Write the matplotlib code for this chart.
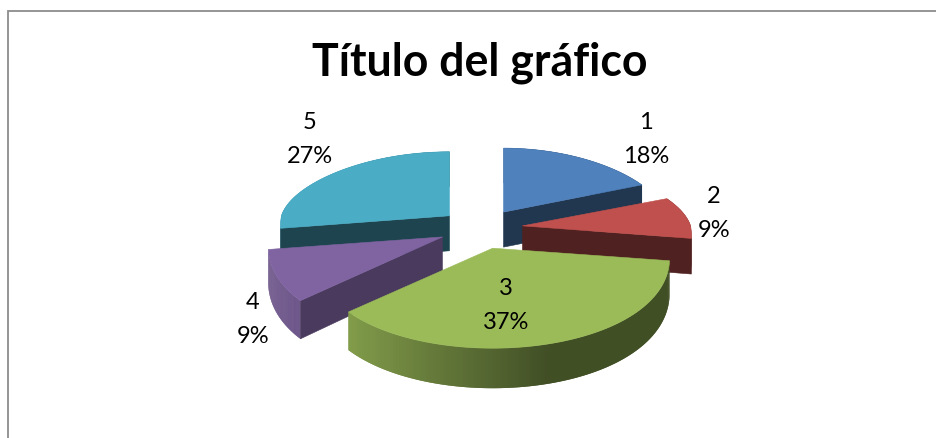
import numpy as np
import matplotlib
matplotlib.use("Agg")
import matplotlib.pyplot as plt

# datos del grafico
categories = ["1", "2", "3", "4", "5"]
values = [18, 9, 37, 9, 27]
colors = ["#4F81BD", "#C0504D", "#9BBB59", "#8064A2", "#4BACC6"]
wall_shade = [0.42, 0.41, 0.42, 0.58, 0.40]
radius_scale = [0.915, 0.955, 1.0, 0.985, 0.955]

# centre of the pie and shape of the fake 3d projection, in pixels
CX, CY = 481, 230
RADIUS = 176
RY_BACK, RY_FRONT = 64, 100
EXPLODE_X, EXPLODE_Y = 42, 20
DEPTH = 35

label_pos = [(646, 139.5), (714, 213.5), (506, 305.5), (253, 319.5), (310, 139.5)]

plt.rcParams["font.family"] = ["Lato", "DejaVu Sans"]


def project(theta, scale):
    # angle is clockwise from the top, back half is squashed like a perspective
    s, c = np.sin(theta), np.cos(theta)
    k = np.where(c > 0, 0.12, 0.1)
    x = RADIUS * scale * s * (1 - k * c)
    y = np.where(c > 0, -RY_BACK * c, -RY_FRONT * c)
    return x, y


def depth_at(y):
    return DEPTH + 5 * np.clip(y / RY_FRONT, 0, 1)


def shade(color, f):
    return tuple(np.array(matplotlib.colors.to_rgb(color)) * f)


def rim_shade(theta):
    t = np.clip((np.sin(theta) + 0.8) / 1.1, 0, 1)
    return 0.85 + (0.42 - 0.85) * t


fig = plt.figure(figsize=(9.36, 4.39), dpi=100)
ax = fig.add_axes([0, 0, 1, 1])
ax.set_xlim(0, 936)
ax.set_ylim(439, 0)
ax.axis("off")

# chart frame, open at the right and the bottom
ax.plot([8, 8, 936], [439, 11.5, 11.5], color="#8c8c8c", lw=1.3, solid_joinstyle="miter")

fractions = np.array(values) / sum(values)
ends = np.cumsum(fractions) * 2 * np.pi
starts = ends - fractions * 2 * np.pi
mids = (starts + ends) / 2

# back slices first so the front ones cover them
for i in np.argsort(-np.cos(mids)):
    ax0 = CX + EXPLODE_X * np.sin(mids[i])
    ay0 = CY - EXPLODE_Y * np.cos(mids[i])
    col = colors[i]
    scale = radius_scale[i]

    # outer rim, each strip runs over the next one to hide the seams
    th = np.linspace(starts[i], ends[i], 120)
    rx, ry = project(th, scale)
    for j in range(len(th) - 1):
        k = min(j + 2, len(th) - 1)
        px = [ax0 + rx[j], ax0 + rx[k], ax0 + rx[k], ax0 + rx[j]]
        py = [ay0 + ry[j], ay0 + ry[k],
              ay0 + ry[k] + depth_at(ry[k]), ay0 + ry[j] + depth_at(ry[j])]
        ax.fill(px, py, color=shade(col, rim_shade(th[j])), lw=0)

    # only the cut faces turned to the viewer
    for a, side in ((starts[i], -1), (ends[i], 1)):
        if side * np.sin(a) <= 1e-9:
            continue
        ex, ey = project(a, scale)
        px = [ax0, ax0 + ex, ax0 + ex, ax0]
        py = [ay0, ay0 + ey, ay0 + ey + depth_at(ey), ay0 + DEPTH]
        ax.fill(px, py, color=shade(col, wall_shade[i]), lw=0.4)

    ax.fill(np.r_[ax0, ax0 + rx], np.r_[ay0, ay0 + ry], color=col, lw=0.4)

ax.text(479.5, 63, "Título del gráfico", fontsize=32.1, fontweight="bold",
        ha="center", va="center", color="black")

for name, val, (lx, ly) in zip(categories, values, label_pos):
    ax.text(lx, ly, "%s\n%d%%" % (name, val), fontsize=17, ha="center", va="center",
            linespacing=1.78, color="black")

fig.savefig("out.png", dpi=100, facecolor="white")
